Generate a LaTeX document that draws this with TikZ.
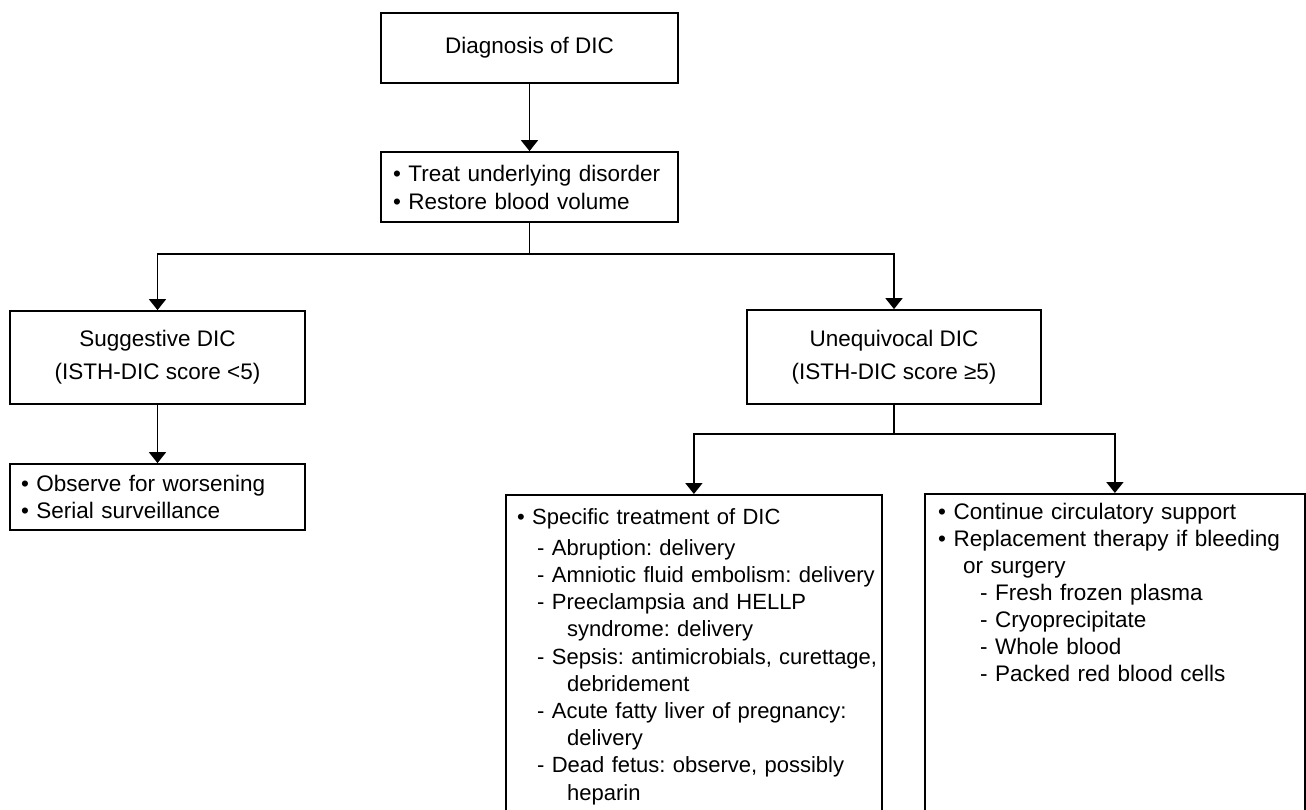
\documentclass[tikz,border=0pt]{standalone}
\usepackage{fontspec}
\setmainfont{Liberation Sans}
\usetikzlibrary{arrows.meta,calc}
\frenchspacing
\begin{document}
\begin{tikzpicture}[x=1pt,y=-1pt,
  box/.style={draw=black, line width=1.8pt, inner sep=0pt},
  ctext/.style={align=center, font=\fontsize{22.5}{27}\selectfont},
  ltext/.style={align=left, font=\fontsize{22.5}{27}\selectfont},
  conn/.style={draw=black, line width=1.8pt},
  arr/.style={conn, -{Triangle[width=17pt,length=11pt]}}]
\clip (0,0) rectangle (1306,809);
\fill[white] (0,0) rectangle (1306,809);

% boxes
\node[box, ctext, minimum width=297pt, minimum height=70pt] (diag) at (529.5,48) {Diagnosis of DIC};
\node[box, ltext, font=\fontsize{22.5}{28}\selectfont, text width=273pt, inner xsep=12pt, minimum height=70pt] (treat) at (529.5,187)
  {• Treat underlying disorder\\• Restore blood volume};
\node[box, ctext, minimum width=295pt, minimum height=93pt] (sugg) at (157.5,357.5)
  {Suggestive DIC\\[6pt](ISTH-DIC score <5)};
\node[box, ctext, minimum width=294pt, minimum height=94pt] (uneq) at (894,357)
  {Unequivocal DIC\\[6pt](ISTH-DIC score ≥5)};
\node[box, ltext, text width=273pt, inner xsep=11pt, minimum height=66pt] (obs) at (157.5,497)
  {• Observe for worsening\\• Serial surveillance};

\node[box, anchor=north west, minimum width=376pt, minimum height=340pt] (spec) at (505,494) {};
\node[ltext, font=\fontsize{22}{27.2}\selectfont, inner sep=0pt, anchor=base west, text width=450pt] (spectext) at (517,524)
  {• Specific treatment of DIC\\[4pt]
   \hspace*{20pt}- Abruption: delivery\\
   \hspace*{20pt}- Amniotic fluid embolism: delivery\\
   \hspace*{20pt}- Preeclampsia and HELLP\\
   \hspace*{50pt}syndrome: delivery\\
   \hspace*{20pt}- Sepsis: antimicrobials, curettage,\\
   \hspace*{50pt}debridement\\
   \hspace*{20pt}- Acute fatty liver of pregnancy:\\
   \hspace*{50pt}delivery\\
   \hspace*{20pt}- Dead fetus: observe, possibly\\
   \hspace*{50pt}heparin};

\node[box, anchor=north west, minimum width=380pt, minimum height=340pt] (repl) at (924,493) {};
\node[ltext, inner sep=0pt, anchor=base west, text width=450pt] (repltext) at (938,519)
  {• Continue circulatory support\\
   • Replacement therapy if bleeding\\
   \hspace*{25pt}or surgery\\
   \hspace*{42pt}- Fresh frozen plasma\\
   \hspace*{42pt}- Cryoprecipitate\\
   \hspace*{42pt}- Whole blood\\
   \hspace*{42pt}- Packed red blood cells};

% connectors
\draw[arr] (diag.south) -- (treat.north);
\coordinate (j1) at ($(treat.south)+(0,31)$);
\draw[conn] (treat.south) -- (j1);
\draw[arr] (j1) -| (sugg.north);
\draw[arr] (j1) -| (uneq.north);
\draw[arr] (sugg.south) -- (obs.north);
\coordinate (j2) at ($(uneq.south)+(0,29)$);
\draw[conn] (uneq.south) -- (j2);
\draw[arr] (j2) -| (spec.north);
\draw[arr] (j2) -| (repl.north);
\end{tikzpicture}
\end{document}
